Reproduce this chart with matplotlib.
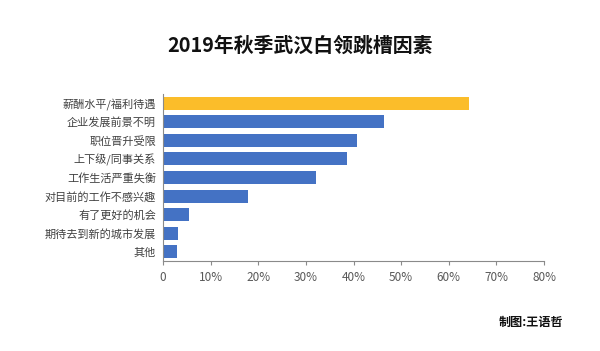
import matplotlib
matplotlib.use('Agg')
import matplotlib.pyplot as plt
from matplotlib.ticker import MultipleLocator, FuncFormatter

plt.rcParams['font.family'] = ['Noto Sans CJK SC', 'DejaVu Sans']

# data, top to bottom
categories = ['薪酬水平/福利待遇', '企业发展前景不明', '职位晋升受限', '上下级/同事关系',
              '工作生活严重失衡', '对目前的工作不感兴趣', '有了更好的机会',
              '期待去到新的城市发展', '其他']
values = [64.3, 46.4, 40.8, 38.6, 32.1, 17.9, 5.5, 3.2, 2.9]
highlight = '薪酬水平/福利待遇'

fig = plt.figure(figsize=(6, 3.51), dpi=100)
ax = fig.add_axes([0.2717, 0.2556, 0.635, 0.4774])

colors = ['#FBBD2A' if c == highlight else '#4472C4' for c in categories]
y = list(range(len(categories)))
ax.barh(y, values, height=0.7, color=colors, zorder=2)
ax.set_yticks(y)
ax.set_yticklabels(categories, fontsize=8, color='#404040')
ax.set_ylim(len(categories) - 0.5, -0.5)
ax.set_xlim(0, 80)
ax.xaxis.set_major_locator(MultipleLocator(10))
ax.xaxis.set_major_formatter(FuncFormatter(lambda v, p: '0' if v == 0 else '{:.0f}%'.format(v)))
ax.tick_params(axis='x', labelsize=8.5, colors='#8a8a8a', labelcolor='#595959', length=3, width=0.8, pad=4)
ax.tick_params(axis='y', length=0, pad=5)

for side in ['top', 'right']:
    ax.spines[side].set_visible(False)
for side in ['left', 'bottom']:
    ax.spines[side].set_color('#8a8a8a')
    ax.spines[side].set_linewidth(0.8)

fig.text(0.5, 0.872, '2019年秋季武汉白领跳槽因素', ha='center', va='center',
         fontsize=14.3, fontweight='bold', color='#111111')
fig.text(0.885, 0.082, '制图:王语哲', ha='center', va='center',
         fontsize=8.7, fontweight='bold', color='#111111')

fig.savefig('out.png', dpi=100)
